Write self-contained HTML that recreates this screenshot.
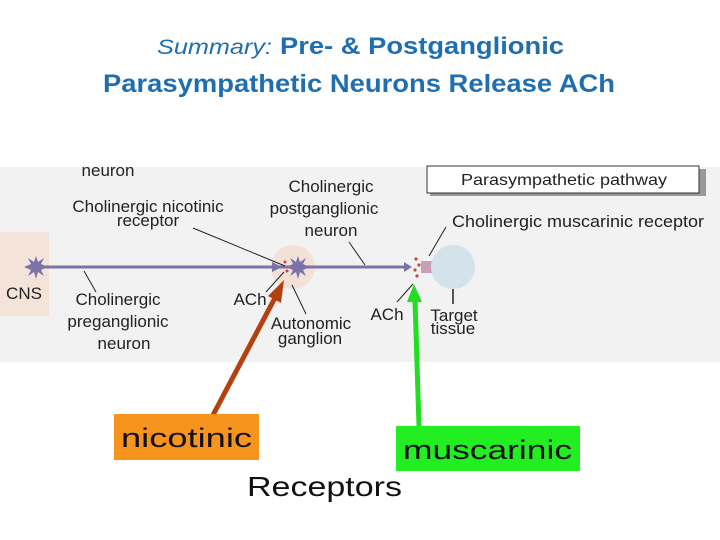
<!DOCTYPE html>
<html><head><meta charset="utf-8"><style>
html,body{margin:0;padding:0;background:#fff;}
svg{display:block;font-family:"Liberation Sans",Arial,sans-serif;}
text{font-family:"Liberation Sans",Arial,sans-serif;}
</style></head><body>
<svg width="720" height="540" viewBox="0 0 720 540" xmlns="http://www.w3.org/2000/svg">
<rect width="720" height="540" fill="#fff"/>
<text x="157" y="54" font-size="21" fill="#1f6fb0" font-style="italic" textLength="115" lengthAdjust="spacingAndGlyphs">Summary:</text>
<text x="280" y="54" font-size="24" fill="#1f6fb0" font-weight="bold" textLength="284" lengthAdjust="spacingAndGlyphs">Pre- &amp; Postganglionic</text>
<text x="103" y="92" font-size="25" fill="#1f6fb0" font-weight="bold" textLength="512" lengthAdjust="spacingAndGlyphs">Parasympathetic Neurons Release ACh</text>
<rect x="0" y="167" width="720" height="195" fill="#f2f2f2"/>
<rect x="0" y="232" width="49" height="84" fill="#f3e3d8"/>
<circle cx="293" cy="267" r="22" fill="#f3e0d6"/>
<rect x="430" y="169" width="276" height="27" fill="#999"/>
<rect x="427" y="166" width="272" height="27" fill="#fff" stroke="#333" stroke-width="1"/>
<text x="461" y="185" font-size="16" fill="#222" textLength="206" lengthAdjust="spacingAndGlyphs">Parasympathetic pathway</text>
<line x1="36" y1="267" x2="408" y2="267" stroke="#7a73a8" stroke-width="3"/>
<polygon points="272,262 282,267 272,272" fill="#7a73a8"/>
<polygon points="404,262 412,267 404,272" fill="#7a73a8"/>
<g fill="#7a73a8">
<polygon points="36,256 38,262 44,258 41,264 48,267 41,270 44,276 38,272 36,279 34,272 28,276 31,270 24,267 31,264 28,258 34,262"/>
<polygon points="298,256 300,262 306,258 303,264 310,267 303,270 306,276 300,272 298,279 296,272 290,276 293,270 286,267 293,264 290,258 296,262"/>
</g>
<circle cx="285" cy="262" r="1.5" fill="#c44"/><circle cx="287" cy="271" r="1.5" fill="#c44"/>
<rect x="421" y="261" width="12" height="12" fill="#c9a0b8"/>
<circle cx="453" cy="267" r="22" fill="#d4e2ea"/>
<line x1="453" y1="289" x2="453" y2="304" stroke="#555" stroke-width="2"/>
<g fill="#c44"><circle cx="416" cy="259" r="1.6"/><circle cx="419" cy="265" r="1.6"/><circle cx="415" cy="270" r="1.6"/><circle cx="417" cy="276" r="1.6"/></g>
<g stroke="#222" stroke-width="1">
<line x1="193" y1="228" x2="285" y2="266"/>
<line x1="84" y1="271" x2="96" y2="292"/>
<line x1="266" y1="292" x2="284" y2="272"/>
<line x1="292" y1="285" x2="306" y2="314"/>
<line x1="349" y1="242" x2="365" y2="265"/>
<line x1="397" y1="302" x2="413" y2="284"/>
<line x1="429" y1="256" x2="446" y2="227"/>
</g>
<g font-size="17" fill="#222" text-anchor="middle">
<text x="108" y="176">neuron</text>
<text x="148" y="212">Cholinergic nicotinic</text>
<text x="148" y="226">receptor</text>
<text x="331" y="192">Cholinergic</text>
<text x="324" y="214">postganglionic</text>
<text x="331" y="236">neuron</text>
<text x="24" y="299">CNS</text>
<text x="118" y="305">Cholinergic</text>
<text x="118" y="327">preganglionic</text>
<text x="124" y="349">neuron</text>
<text x="250" y="305">ACh</text>
<text x="311" y="329">Autonomic</text>
<text x="310" y="344">ganglion</text>
<text x="387" y="320">ACh</text>
<text x="454" y="321">Target</text>
<text x="453" y="334">tissue</text>
<text x="578" y="227" textLength="252" lengthAdjust="spacingAndGlyphs">Cholinergic muscarinic receptor</text>
</g>
<line x1="213" y1="415" x2="276" y2="296" stroke="#b5400f" stroke-width="5"/>
<polygon points="284,280 281,303 268,296" fill="#b5400f"/>
<line x1="419" y1="426" x2="415" y2="300" stroke="#22dd22" stroke-width="5"/>
<polygon points="414,284 422,302 407,302" fill="#22dd22"/>
<rect x="114" y="414" width="145" height="46" fill="#f7941d"/>
<text x="121" y="447" font-size="27" fill="#111" textLength="131" lengthAdjust="spacingAndGlyphs">nicotinic</text>
<rect x="396" y="426" width="184" height="45" fill="#22ee22"/>
<text x="403" y="459" font-size="27" fill="#111" textLength="169" lengthAdjust="spacingAndGlyphs">muscarinic</text>
<text x="247" y="496" font-size="28" fill="#111" textLength="155" lengthAdjust="spacingAndGlyphs">Receptors</text>
</svg>
</body></html>
